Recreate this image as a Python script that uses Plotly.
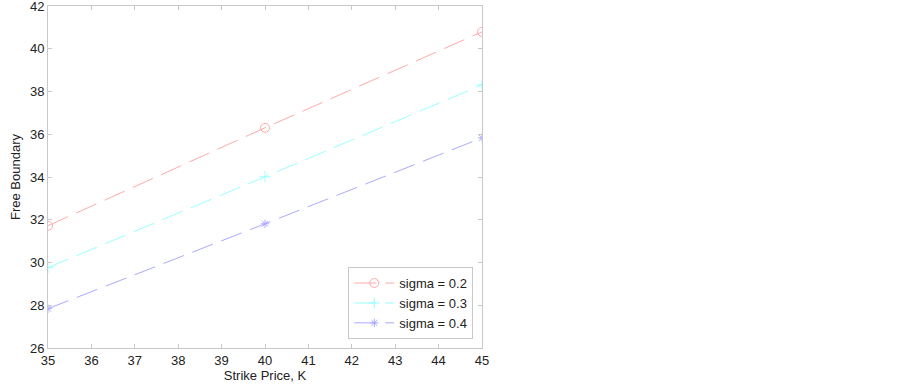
import plotly.graph_objects as go

strike = [35, 40, 45]
sigma_labels = ["sigma = 0.2", "sigma = 0.3", "sigma = 0.4"]
boundary_02 = [31.72, 36.30, 40.79]
boundary_03 = [29.76, 34.01, 38.31]
boundary_04 = [27.84, 31.81, 35.83]
xticks = list(range(35, 46))
yticks = list(range(26, 43, 2))

series = [boundary_02, boundary_03, boundary_04]
colors = ["#ffaaaa", "#99ffff", "#aaaaff"]
symbols = ["circle-open", "cross-thin-open", "asterisk-open"]
sizes = [9, 8, 7]

font = "Liberation Sans, Arial, sans-serif"

fig = go.Figure()
for lab, ys, c, s, sz in zip(sigma_labels, series, colors, symbols, sizes):
    fig.add_trace(go.Scatter(
        x=strike, y=ys, name=lab, mode="lines+markers",
        line=dict(color=c, width=1, dash="22px,9px"),
        marker=dict(symbol=s, size=sz, color=c, line=dict(color=c, width=1)),
    ))

axis_common = dict(
    showgrid=False, zeroline=False, showline=True, linecolor="#c8c8c8",
    linewidth=1, mirror="ticks", ticks="inside", ticklen=4, tickcolor="#c8c8c8",
    tickfont=dict(family=font, size=13, color="#222"), automargin=False,
    ticklabeloverflow="allow",
)
fig.update_xaxes(range=[35, 45], tickvals=xticks,
                 title=dict(text="Strike Price, K", standoff=2, font=dict(family=font, size=13, color="#222")),
                 **axis_common)
fig.update_yaxes(range=[26, 42], tickvals=yticks,
                 title=dict(text="Free Boundary", standoff=6, font=dict(family=font, size=13, color="#222")),
                 **axis_common)

fig.update_layout(
    width=902, height=386,
    margin=dict(l=48, r=420, t=6, b=38, autoexpand=False),
    paper_bgcolor="white", plot_bgcolor="white",
    showlegend=True,
    legend=dict(x=0.98, y=0.026, xanchor="right", yanchor="bottom",
                bgcolor="white", bordercolor="#c8c8c8", borderwidth=1,
                font=dict(family=font, size=13, color="#222"),
                itemwidth=40, tracegroupgap=0),
)
fig.write_html("out.html", config={"displayModeBar": False},
               post_script="document.body.style.margin='0';")
